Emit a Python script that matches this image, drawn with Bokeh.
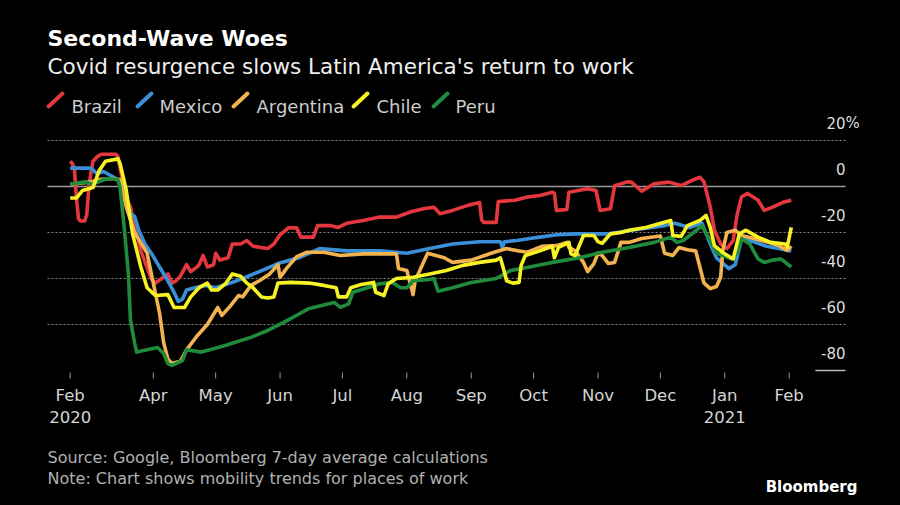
import pandas as pd
from bokeh.plotting import figure
from bokeh.models import Range1d, Label, Arrow
from bokeh.embed import file_html
from bokeh.resources import INLINE
from bokeh.core.properties import value

# ---------------- data (7-day avg change vs baseline, %) ----------------
START = "2020-02-21"   # day 0 of every *_day list

brazil_day = [0, 1, 2, 3, 4, 5, 7, 8, 9, 10, 11, 13, 15, 22, 23, 24, 27, 29, 34, 39, 41, 44, 47, 49,
              51, 53, 56, 58, 61, 62, 64, 66, 69, 70, 72, 76, 78, 82, 85, 88, 95, 98, 101, 105, 109,
              111, 117, 119, 125, 129, 133, 141, 149, 157, 164, 170, 175, 178, 184, 191, 197, 198,
              199, 205, 206, 214, 220, 226, 232, 233, 234, 239, 240, 249, 253, 255, 260, 262, 268,
              270, 275, 281, 288, 294, 299, 303, 305, 308, 310, 313, 316, 319, 321, 323, 326, 331,
              334, 338, 343, 347]
brazil_pct = [11, 10, 8, -5, -14, -15, -15, -12, 0, 6, 11, 13, 14, 14, 13, 8, -5, -9, -28, -40, -42,
              -40, -38, -42, -41, -39, -34, -37, -35, -34, -30, -35, -34, -29, -32, -31, -25, -25,
              -23.5, -26, -27, -25, -21, -18, -18, -22, -22, -17, -17, -17.8, -16, -14.8, -13.3,
              -13.3, -11, -9.7, -9, -11.8, -10.4, -8.3, -7, -14.5, -15.6, -15.6, -6.5, -6, -4.6,
              -3.9, -2.5, -3, -10.4, -10, -2.5, -1, -1.7, -10.4, -9.7, 0.3, 2, 1.9, -2, 1.2, 1.9,
              0.4, 2.6, 4, 2, -9, -19, -25, -27, -23.5, -12, -4.6, -3, -6, -10.4, -9, -6.9, -6]

mexico_day = [0, 10, 13, 16, 21, 24, 27, 29, 31, 33, 36, 39, 43, 47, 50, 52, 54, 56, 60, 65, 70, 77,
              83, 91, 100, 110, 120, 133, 149, 162, 173, 184, 197, 207, 208, 209, 215, 221, 226, 234,
              243, 259, 270, 286, 291, 298, 304, 308, 311, 317, 320, 323, 329, 335, 341, 347]
mexico_pct = [8, 8, 5.5, 6.5, 4, 2, -5, -12, -13, -19, -25, -29, -35, -41, -46, -50, -49, -45, -44,
              -43, -44, -42, -40, -37, -33.5, -31, -27, -28, -28, -29, -27, -25, -24, -24, -26.5, -24,
              -23.5, -22.6, -22, -21, -20.6, -20.6, -19, -17, -16, -17.8, -16, -25, -31, -35.7, -34,
              -23, -24, -26, -27, -28]

argentina_day = [0, 10, 14, 20, 24, 27, 31, 37, 40, 43, 45, 47, 49, 53, 56, 61, 66, 71, 73, 77, 81,
                 83, 87, 91, 96, 100, 101, 104, 109, 114, 122, 130, 141, 157, 158, 162, 165, 166, 172,
                 180, 184, 193, 204, 210, 216, 220, 227, 234, 239, 240, 243, 247, 249, 252, 254, 256,
                 259, 262, 265, 269, 275, 284, 286, 290, 293, 297, 301, 303, 305, 308, 311, 313, 314,
                 316, 320, 323, 329, 336, 341, 345, 347]
argentina_pct = [1, 2, 3, 3.5, 3, -9, -20, -29, -42, -55, -68, -75, -77, -76, -71, -65, -60, -52.6,
                 -56, -52, -47.4, -48, -43, -41, -38, -34, -39.5, -35.7, -30.5, -28.6, -28.6, -30,
                 -29.3, -29.3, -35.7, -36.5, -47, -41, -29, -31, -33, -32, -28.6, -27, -28, -28.6,
                 -26, -25.7, -24.3, -26.5, -28, -33, -37, -33.5, -29, -30, -33.5, -33, -24.3, -24.3,
                 -22.6, -21.5, -29, -30, -26.5, -27.5, -28, -35, -42, -44.4, -43.5, -39.5, -28, -20,
                 -19, -21.3, -22.6, -24.3, -25.7, -27.8, -26]

chile_day = [0, 3, 6, 11, 14, 17, 23, 24, 27, 30, 34, 37, 41, 47, 50, 55, 58, 62, 66, 68, 71, 75, 78,
             82, 85, 88, 92, 95, 98, 100, 106, 115, 122, 128, 129, 133, 135, 140, 146, 147, 151, 153,
             157, 165, 173, 181, 189, 197, 205, 207, 209, 210, 213, 216, 217, 219, 226, 232, 233, 235,
             240, 241, 243, 247, 252, 254, 256, 258, 260, 265, 269, 277, 289, 290, 294, 297, 303,
             306, 308, 310, 314, 319, 322, 325, 331, 337, 344, 345, 347]
chile_pct = [-5, -5, -1.7, -0.4, 7, 11, 12, 10, -1.7, -20.5, -35, -44, -47.4, -47, -52.6, -52.6, -48,
             -44, -42, -45, -45, -42, -38, -39, -42, -44, -48, -48.5, -48, -42, -41.7, -42, -43, -44,
             -48, -48, -44, -42.6, -41.7, -46, -47.4, -42.3, -40, -39.5, -38, -36.5, -34.3, -33, -32,
             -31, -37.4, -41, -42, -41.7, -34.3, -30, -28, -26, -31, -26.5, -24.3, -29.3, -30, -21.3,
             -21.3, -24, -24.7, -22.6, -20.6, -20, -19, -17.8, -14.8, -21.3, -21.7, -17, -14.8, -12.6,
             -17.8, -25.7, -28.7, -31.5, -20.6, -19, -22, -24.3, -25, -26.5, -17.8]

peru_day = [0, 7, 11, 15, 18, 23, 24, 26, 28, 29, 31, 32, 37, 42, 45, 47, 49, 54, 56, 63, 69, 75, 79,
            87, 95, 103, 109, 115, 121, 127, 130, 134, 136, 143, 149, 155, 159, 162, 165, 172, 175,
            177, 184, 193, 205, 212, 221, 232, 245, 256, 269, 281, 289, 292, 295, 300, 304, 307, 311,
            318, 321, 323, 327, 331, 334, 338, 342, 347]
peru_pct = [1, 2, 1, 2.6, 3.5, 3, -0.4, -17.8, -38, -58, -68, -72, -71, -70, -72.6, -77, -77.8, -75.7,
            -71, -72, -70.5, -69, -67.8, -65.6, -62.6, -59, -56, -53, -51.7, -50.4, -52.6, -51, -46,
            -44, -42.3, -41.7, -44, -44, -41, -40.5, -40, -45.5, -44, -41.7, -40, -36.5, -35, -33,
            -31, -28.6, -26.5, -24.3, -22, -24.3, -23.5, -20, -17, -22, -29, -31.5, -29, -22.6, -25,
            -31.5, -33, -32, -31.5, -35]

series_names = ["Brazil", "Mexico", "Argentina", "Chile", "Peru"]
series_colors = ["#e5383e", "#3a8fd9", "#f2b24f", "#f6f224", "#1f8b3b"]

tick_dates = ["2020-02-21", "2020-04-01", "2020-05-01", "2020-06-01", "2020-07-01", "2020-08-01",
              "2020-09-01", "2020-10-01", "2020-11-01", "2020-12-01", "2021-01-01", "2021-02-01"]
tick_labels = ["Feb\n2020", "Apr", "May", "Jun", "Jul", "Aug", "Sep", "Oct", "Nov", "Dec",
               "Jan\n2021", "Feb"]

y_ticks = [20, 0, -20, -40, -60, -80]
y_labels = ["20", "0", "-20", "-40", "-60", "-80"]
y_unit = "%"

# ---------------- layout / styling ----------------
BG = "#000000"
FONT = "DejaVu Sans"
CW, CH = 900, 505                 # canvas
L, R, T, B = 47, 845, 112, 372     # plot area in canvas pixels
x0 = pd.Timestamp("2020-02-10 02:00")   # date at left edge of plot area
x1 = pd.Timestamp("2021-02-28 02:00")   # date at right edge of plot area
y_top, y_bot = 32.17, -80.87            # values at top / bottom of plot area
start = pd.Timestamp(START)


def to_dates(days):
    return [start + pd.Timedelta(days=d) for d in days]


# frame covers the whole canvas; data scale is set so that the plot area lands on L..R, T..B
xspan = x1 - x0
yspan = y_top - y_bot
X0 = x0 - xspan * (L / (R - L))
X1 = x1 + xspan * ((CW - R) / (R - L))
Y1 = y_top + yspan * (T / (B - T))
Y0 = y_bot - yspan * ((CH - B) / (B - T))

p = figure(width=CW, height=CH, x_axis_type="datetime",
           x_range=Range1d(X0, X1), y_range=Range1d(Y0, Y1),
           toolbar_location=None, output_backend="svg",
           x_axis_location=None, y_axis_location=None, min_border=0,
           background_fill_color=BG, border_fill_color=BG, outline_line_color=None)
p.grid.visible = False
p.extra_y_ranges = {"py": Range1d(CH, 0)}   # canvas pixel rows, for axis ticks

# ---- header (title, subtitle, legend) ----
p.add_layout(Label(x=47, y=38, x_units="canvas", y_units="canvas", text="Second-Wave Woes",
                   text_font=FONT, text_font_style="bold", text_font_size="22px",
                   text_color="#ffffff", text_baseline="alphabetic"))
p.add_layout(Label(x=47, y=66, x_units="canvas", y_units="canvas",
                   text="Covid resurgence slows Latin America's return to work",
                   text_font=FONT, text_font_size="21.5px", text_color="#eeeeee",
                   text_baseline="alphabetic"))
leg_x = [48, 137, 233, 353, 433]
leg_tx = [71, 159, 256, 376, 455]
for lx, tx, name, col in zip(leg_x, leg_tx, series_names, series_colors):
    p.add_layout(Arrow(x_start=lx, y_start=106, x_end=lx + 14, y_end=93,
                       start_units="canvas", end_units="canvas", start=None, end=None,
                       line_color=col, line_width=4, line_cap="round"))
    p.add_layout(Label(x=tx, y=106, x_units="canvas", y_units="canvas", text=name,
                       text_font=FONT, text_font_size="18px", text_color="#cccccc",
                       text_baseline="alphabetic"))

# ---- gridlines and y labels ----
grid_vals = [v for v in y_ticks if v not in (0, -80)]
p.segment(x0=[x0] * len(grid_vals), y0=grid_vals, x1=[x1] * len(grid_vals), y1=grid_vals,
          line_color="#8a8a8a", line_width=1, line_dash="2 2")
p.segment(x0=[x0], y0=[0], x1=[x1], y1=[0], line_color="#9a9a9a", line_width=1.5)
p.segment(x0=[x1 - pd.Timedelta(days=14.5)], y0=[-80], x1=[x1], y1=[-80],
          line_color="#bbbbbb", line_width=1.5)

p.text(x=[x1] * len(y_ticks), y=y_ticks, text=y_labels, text_font=value(FONT),
       text_font_size="15px", text_color="#dddddd", text_align="right",
       text_baseline="alphabetic", y_offset=-17)
p.text(x=[x1], y=[y_ticks[0]], text=[y_unit], text_font=value(FONT),
       text_font_size="15px", text_color="#dddddd", text_align="left",
       text_baseline="alphabetic", y_offset=-17)

# ---- series ----
data = {
    "Brazil": (brazil_day, brazil_pct),
    "Mexico": (mexico_day, mexico_pct),
    "Argentina": (argentina_day, argentina_pct),
    "Chile": (chile_day, chile_pct),
    "Peru": (peru_day, peru_pct),
}
colors = dict(zip(series_names, series_colors))
for name in ["Brazil", "Mexico", "Argentina", "Peru", "Chile"]:
    d, v = data[name]
    p.line(to_dates(d), v, line_color=colors[name], line_width=3.6, line_join="round")

# ---- x axis (ticks on the date scale, below the plot area) ----
tick_x = [pd.Timestamp(t) for t in tick_dates]
n = len(tick_x)
p.segment(x0=tick_x, y0=[B] * n, x1=tick_x, y1=[B + 6] * n, y_range_name="py",
          line_color="#999999", line_width=1)
p.text(x=tick_x, y=[B + 13] * n, text=tick_labels, y_range_name="py",
       text_font=value(FONT), text_font_size="16.5px", text_color="#d5d5d5",
       text_align="center", text_baseline="top", text_line_height=1.2)

# ---- footer ----
p.add_layout(Label(x=47, y=457, x_units="canvas", y_units="canvas",
                   text="Source: Google, Bloomberg 7-day average calculations",
                   text_font=FONT, text_font_size="16px", text_color="#b0b0b0",
                   text_baseline="alphabetic"))
p.add_layout(Label(x=47, y=478, x_units="canvas", y_units="canvas",
                   text="Note: Chart shows mobility trends for places of work",
                   text_font=FONT, text_font_size="16px", text_color="#b0b0b0",
                   text_baseline="alphabetic"))
p.add_layout(Label(x=857, y=486, x_units="canvas", y_units="canvas", text="Bloomberg",
                   text_font=FONT, text_font_style="bold", text_font_size="15px",
                   text_color="#ffffff", text_align="right", text_baseline="alphabetic"))

html = file_html(p, INLINE)
html = html.replace("</head>", "<style>html,body{background:#000000;}</style></head>", 1)
open("out.html", "w").write(html)
